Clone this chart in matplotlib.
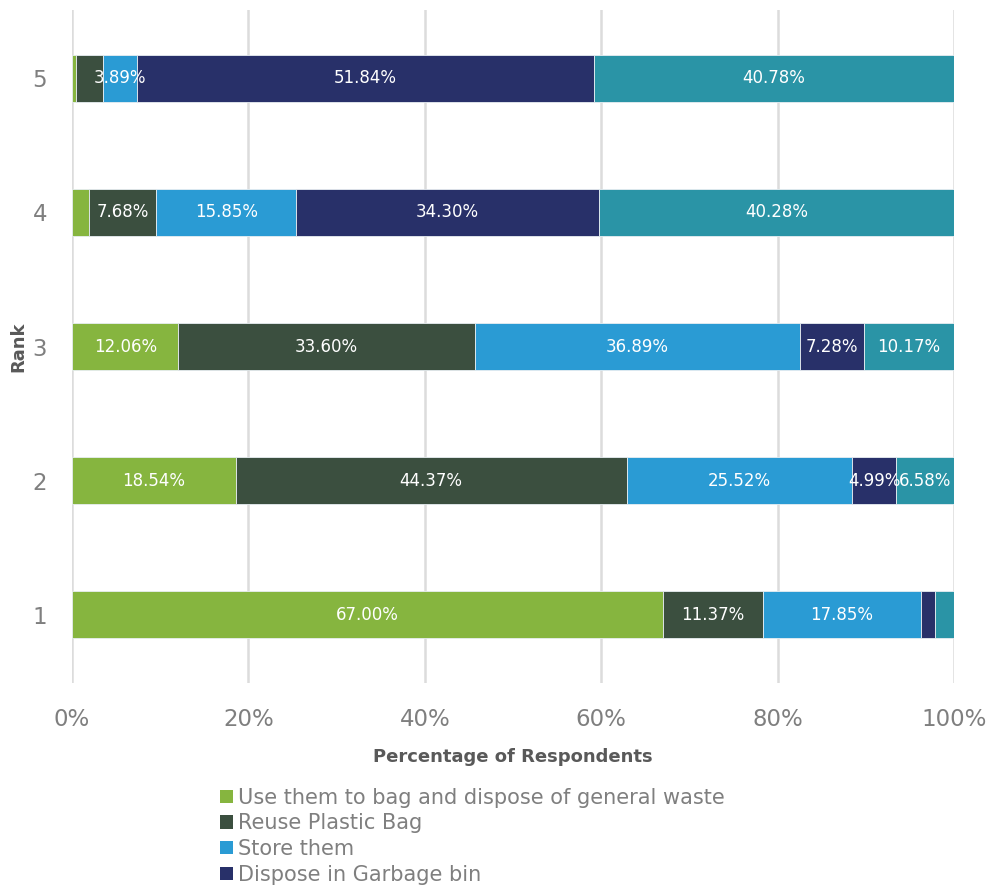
import numpy as np
import matplotlib
matplotlib.use("Agg")
import matplotlib.pyplot as plt
from matplotlib.patches import Patch

# ── Data (percent of respondents per rank) ───────────────────────────────────
ranks = ["1", "2", "3", "4", "5"]
series = [
    "Use them to bag and dispose of general waste",
    "Reuse Plastic Bag",
    "Store them",
    "Dispose in Garbage bin",
    "Throw away",
]
bag_waste = [67.00, 18.54, 12.06, 1.89, 0.40]
reuse_bag = [11.37, 44.37, 33.60, 7.68, 3.09]
store_them = [17.85, 25.52, 36.89, 15.85, 3.89]
garbage_bin = [1.60, 4.99, 7.28, 34.30, 51.84]
other = [2.18, 6.58, 10.17, 40.28, 40.78]

values = [bag_waste, reuse_bag, store_them, garbage_bin, other]
colors = ["#86B53F", "#3B4F3F", "#2A9BD4", "#283069", "#2A94A6"]
x_ticks = [0, 20, 40, 60, 80, 100]

fig = plt.figure(figsize=(9.92, 8.85), dpi=100)
ax = fig.add_axes([0.0726, 0.2282, 0.8891, 0.7605])

y = np.arange(len(ranks)) + 1
left = np.zeros(len(ranks))
for vals, col in zip(values, colors):
    vals = np.array(vals)
    ax.barh(y, vals, left=left, height=0.35, color=col,
            edgecolor="#e8eef2", linewidth=0.6, zorder=3)
    for yi, l, v in zip(y, left, vals):
        if v >= 3.5:
            ax.text(l + v / 2, yi, f"{v:.2f}%", ha="center", va="center",
                    color="white", fontsize=12, zorder=4)
    left += vals

ax.set_xlim(0, 100)
ax.set_ylim(0.49, 5.51)
ax.set_xticks(x_ticks)
ax.set_xticklabels([f"{t}%" for t in x_ticks])
ax.set_yticks(y)
ax.set_yticklabels(ranks)
ax.tick_params(axis="both", length=0, colors="#7f7f7f", labelsize=16.5)
ax.tick_params(axis="x", pad=18)
ax.tick_params(axis="y", pad=18)
ax.grid(axis="x", color="#dcdcdc", linewidth=1.8, zorder=0)
for s in ax.spines.values():
    s.set_visible(False)

ax.set_xlabel("Percentage of Respondents", fontsize=13, fontweight="bold",
              color="#595959", labelpad=12)
ax.set_ylabel("Rank", fontsize=13, fontweight="bold", color="#595959")
ax.yaxis.set_label_coords(-0.051, 0.5)

handles = [Patch(facecolor=c, edgecolor="none") for c in colors[:4]]
leg = fig.legend(handles, series[:4], loc="upper left",
                 bbox_to_anchor=(0.222, 0.110), frameon=False,
                 fontsize=15, labelcolor="#7f7f7f", handlelength=0.6,
                 handleheight=0.6, handletextpad=0.25, labelspacing=0.27,
                 borderpad=0, borderaxespad=0)

fig.savefig("out.png", dpi=100)
